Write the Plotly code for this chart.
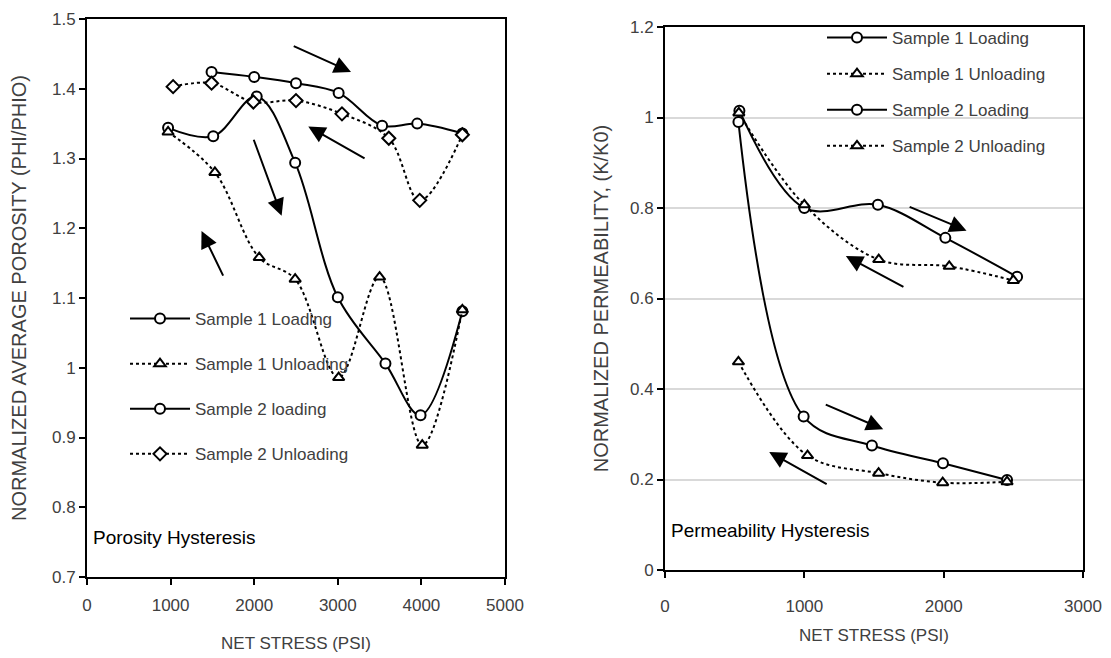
import plotly.graph_objects as go

# ---------------- Porosity hysteresis (left) ----------------
por_s1_load_x = [970, 1510, 2030, 2490, 3000, 3570, 3990, 4490]
por_s1_load_y = [1.344, 1.332, 1.389, 1.294, 1.101, 1.006, 0.932, 1.081]
por_s1_unload_x = [970, 1530, 2060, 2490, 3010, 3500, 4010, 4490]
por_s1_unload_y = [1.338, 1.280, 1.158, 1.127, 0.986, 1.130, 0.889, 1.083]
por_s2_load_x = [1490, 2000, 2500, 3010, 3530, 3950, 4490]
por_s2_load_y = [1.424, 1.417, 1.408, 1.394, 1.347, 1.350, 1.336]
por_s2_unload_x = [1030, 1490, 1990, 2500, 3050, 3610, 3980, 4490]
por_s2_unload_y = [1.403, 1.408, 1.381, 1.383, 1.364, 1.329, 1.240, 1.334]

# ---------------- Permeability hysteresis (right) ----------------
perm_s1_load_x = [534, 1000, 1528, 2012, 2527]
perm_s1_load_y = [1.015, 0.800, 0.807, 0.734, 0.648]
perm_s1_unload_x = [530, 1000, 1534, 2040, 2500]
perm_s1_unload_y = [1.010, 0.807, 0.686, 0.671, 0.640]
perm_s2_load_x = [527, 995, 1485, 1995, 2455]
perm_s2_load_y = [0.990, 0.339, 0.275, 0.236, 0.199]
perm_s2_unload_x = [527, 1023, 1533, 1993, 2455]
perm_s2_unload_y = [0.460, 0.253, 0.214, 0.193, 0.195]

por_names = ["Sample 1 Loading", "Sample 1 Unloading", "Sample 2 loading", "Sample 2 Unloading"]
perm_names = ["Sample 1 Loading", "Sample 1 Unloading", "Sample 2 Loading", "Sample 2 Unloading"]

# arrows: (tail_x, tail_y, tip_x, tip_y)
por_arrows = [
    (2455, 1.462, 3158, 1.424),
    (3338, 1.299, 2647, 1.346),
    (1988, 1.329, 2328, 1.218),
    (1637, 1.130, 1370, 1.196),
]
perm_arrows = [
    (1745, 0.804, 2164, 0.750),
    (1722, 0.624, 1298, 0.694),
    (1143, 0.367, 1566, 0.311),
    (1171, 0.188, 748, 0.261),
]

FONT = "Liberation Sans, Arial, sans-serif"
TXT = "#404040"

fig = go.Figure()

def add(x, y, name, symbol, dash, xa, ya, legend, grp):
    fig.add_trace(go.Scatter(
        x=x, y=y, name=name, mode="lines+markers",
        line=dict(color="black", width=2, dash=dash, shape="spline", smoothing=1.0),
        marker=dict(symbol=symbol, size=10, color="white", line=dict(color="black", width=2)),
        xaxis=xa, yaxis=ya, legend=legend, legendgroup=grp,
    ))

add(por_s1_load_x, por_s1_load_y, por_names[0], "circle", "solid", "x", "y", "legend", "a1")
add(por_s1_unload_x, por_s1_unload_y, por_names[1], "triangle-up", "dot", "x", "y", "legend", "a2")
add(por_s2_load_x, por_s2_load_y, por_names[2], "circle", "solid", "x", "y", "legend", "a3")
add(por_s2_unload_x, por_s2_unload_y, por_names[3], "diamond", "dot", "x", "y", "legend", "a4")

add(perm_s1_load_x, perm_s1_load_y, perm_names[0], "circle", "solid", "x2", "y2", "legend2", "b1")
add(perm_s1_unload_x, perm_s1_unload_y, perm_names[1], "triangle-up", "dot", "x2", "y2", "legend2", "b2")
add(perm_s2_load_x, perm_s2_load_y, perm_names[2], "circle", "solid", "x2", "y2", "legend2", "b3")
add(perm_s2_unload_x, perm_s2_unload_y, perm_names[3], "triangle-up", "dot", "x2", "y2", "legend2", "b4")

annotations = []
for tx, ty, hx, hy in por_arrows:
    annotations.append(dict(x=hx, y=hy, ax=tx, ay=ty, xref="x", yref="y", axref="x", ayref="y",
                            showarrow=True, arrowhead=2, arrowsize=1.7, arrowwidth=2,
                            arrowcolor="black", text="", standoff=0))
for tx, ty, hx, hy in perm_arrows:
    annotations.append(dict(x=hx, y=hy, ax=tx, ay=ty, xref="x2", yref="y2", axref="x2", ayref="y2",
                            showarrow=True, arrowhead=2, arrowsize=1.7, arrowwidth=2,
                            arrowcolor="black", text="", standoff=0))

annotations.append(dict(text="Porosity Hysteresis", x=0.01, y=0.07, xref="x domain", yref="y domain",
                        xanchor="left", yanchor="middle", showarrow=False,
                        font=dict(family=FONT, size=19, color="black")))
annotations.append(dict(text="Permeability Hysteresis", x=0.01, y=0.072, xref="x2 domain", yref="y2 domain",
                        xanchor="left", yanchor="middle", showarrow=False,
                        font=dict(family=FONT, size=19, color="black")))

axis_common = dict(showline=True, linecolor="black", linewidth=2, mirror=True,
                   ticks="outside", ticklen=6, tickcolor="black", tickwidth=1.5,
                   tickfont=dict(family=FONT, size=17, color=TXT), zeroline=False,
                   automargin=False)

W, H = 1111, 658
L, R, T, B = 87, 28, 19, 81
pw, ph = W - L - R, H - T - B

fig.update_layout(
    width=W, height=H,
    margin=dict(l=L, r=R, t=T, b=B),
    paper_bgcolor="white", plot_bgcolor="white",
    font=dict(family=FONT, color=TXT),
    xaxis=dict(domain=[0, (505 - L) / pw], range=[0, 5000], dtick=1000, showgrid=False,
               title=dict(text="NET STRESS (PSI)", font=dict(family=FONT, size=17, color=TXT), standoff=23),
               ticklabelstandoff=6, anchor="y", **axis_common),
    yaxis=dict(domain=[0, 1], range=[0.7, 1.5], dtick=0.1, showgrid=False,
               title=dict(text="NORMALIZED AVERAGE POROSITY (PHI/PHIO)", font=dict(family=FONT, size=20, color=TXT), standoff=20),
               anchor="x", **axis_common),
    xaxis2=dict(domain=[(665 - L) / pw, 1], range=[0, 3000], dtick=1000, showgrid=False,
                title=dict(text="NET STRESS (PSI)", font=dict(family=FONT, size=17, color=TXT), standoff=14),
                ticklabelstandoff=14, anchor="y2", **axis_common),
    yaxis2=dict(domain=[(577 - 570) / ph, (577 - 27) / ph], range=[0, 1.2], dtick=0.2,
                showgrid=True, gridcolor="#d9d9d9", gridwidth=2,
                title=dict(text="NORMALIZED PERMEABILITY, (K/K0)", font=dict(family=FONT, size=20, color=TXT), standoff=16),
                anchor="x2", **axis_common),
    legend=dict(x=(125 - L) / pw, y=(577 - 301) / ph, xanchor="left", yanchor="top",
                bgcolor="rgba(0,0,0,0)", font=dict(family=FONT, size=17, color=TXT),
                tracegroupgap=20, itemwidth=60),
    legend2=dict(x=(822 - L) / pw, y=(577 - 20) / ph, xanchor="left", yanchor="top",
                 bgcolor="rgba(0,0,0,0)", font=dict(family=FONT, size=17, color=TXT),
                 tracegroupgap=11, itemwidth=60),
    annotations=annotations,
    showlegend=True,
)

fig.write_html("out.html")
